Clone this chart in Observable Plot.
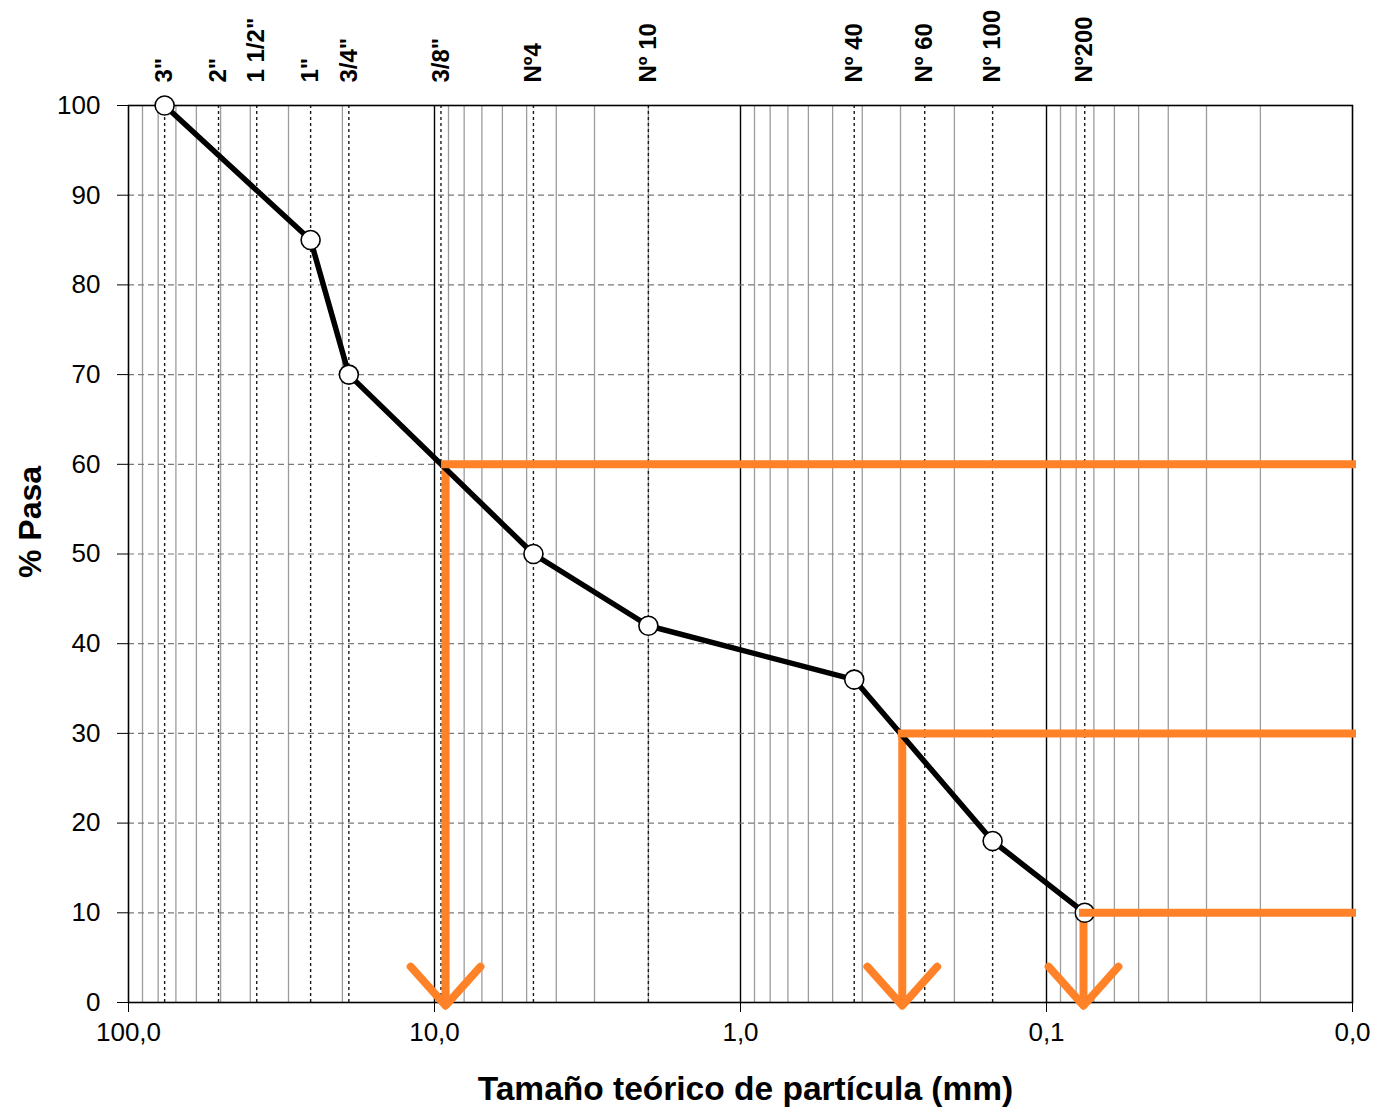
<!DOCTYPE html>
<html>
<head>
<meta charset="utf-8">
<script src="https://cdn.jsdelivr.net/npm/d3@7"></script>
<script src="https://cdn.jsdelivr.net/npm/@observablehq/plot@0.6"></script>
<style>
  html, body { margin: 0; padding: 0; background: #fff; }
  #chart svg { display: block; }
</style>
</head>
<body>
<div id="chart"></div>
<script>
// ---- Data ----
const sieveLabels = ['3"', '2"', '1 1/2"', '1"', '3/4"', '3/8"', 'Nº4', 'Nº 10', 'Nº 40', 'Nº 60', 'Nº 100', 'Nº200'];
const sieveMm = [76.2, 50.8, 38.1, 25.4, 19.05, 9.525, 4.75, 2.0, 0.425, 0.25, 0.15, 0.075];

const sampleMm = [76.2, 25.4, 19.05, 4.75, 2.0, 0.425, 0.15, 0.075];
const percentPassing = [100, 85, 70, 50, 42, 36, 18, 10];

const dNames = ["D60", "D30", "D10"];
const dPercent = [60, 30, 10];
const dMm = [9.2, 0.296, 0.0757];

const yTicks = [0, 10, 20, 30, 40, 50, 60, 70, 80, 90, 100];
const yGrid = [10, 20, 30, 40, 50, 60, 70, 80, 90];
const xTickValues = [100, 10, 1, 0.1, 0.01];
const xTickLabels = ["100,0", "10,0", "1,0", "0,1", "0,0"];
const decadeLines = [10, 1, 0.1];

const xTitle = "Tamaño teórico de partícula (mm)";
const yTitle = "% Pasa";

// ---- Derived tables ----
const sieves = sieveMm.map((mm, i) => ({mm, label: sieveLabels[i]}));
const samples = sampleMm.map((mm, i) => ({mm, pct: percentPassing[i]}));
const dRows = dMm.map((mm, i) => ({name: dNames[i], mm, pct: dPercent[i]}));
const minorTicks = d3.scaleLog().domain([0.01, 100]).ticks()
  .filter(v => Math.abs(Math.log10(v) - Math.round(Math.log10(v))) > 1e-9);

const tipY = -0.35, armY = 4, armSpread = 1.3;
const chevrons = dRows.flatMap(d => [
  {key: d.name, x: d.mm * armSpread, y: armY},
  {key: d.name, x: d.mm, y: tipY},
  {key: d.name, x: d.mm / armSpread, y: armY}
]);

const orange = "#ff8229";
const font = "'Liberation Sans', Arial, Helvetica, sans-serif";

const chart = Plot.plot({
  width: 1373,
  height: 1108,
  marginLeft: 128,
  marginRight: 21,
  marginTop: 105,
  marginBottom: 106,
  style: {fontFamily: font, background: "#fff", color: "#000", overflow: "visible"},
  x: {type: "log", domain: [100, 0.01]},
  y: {domain: [0, 100]},
  marks: [
    Plot.ruleX(minorTicks, {stroke: "#9c9c9c", strokeWidth: 1.3}),
    Plot.ruleX(decadeLines, {stroke: "#000", strokeWidth: 1.4}),
    Plot.ruleX(sieveMm, {stroke: "#1a1a1a", strokeWidth: 1.4, strokeDasharray: "3,3"}),
    Plot.ruleY(yGrid, {stroke: "#7a7a7a", strokeWidth: 1.2, strokeDasharray: "6,4"}),
    Plot.frame({stroke: "#000", strokeWidth: 1.6}),
    Plot.axisY({ticks: yTicks, tickSize: 11, tickPadding: 17, fontSize: 26, label: null, tickFormat: d => String(d)}),
    Plot.axisX({ticks: xTickValues, tickSize: 10, tickPadding: 10, fontSize: 26, label: null,
      tickFormat: d => xTickLabels[xTickValues.indexOf(d)]}),
    // D-lines: verticals and arrowheads
    Plot.ruleX(dRows, {x: "mm", y1: "pct", y2: tipY, stroke: orange, strokeWidth: 8}),
    Plot.line(chevrons, {x: "x", y: "y", z: "key", stroke: orange, strokeWidth: 8,
      strokeLinecap: "round", strokeLinejoin: "round"}),
    // grading curve
    Plot.line(samples, {x: "mm", y: "pct", stroke: "#000", strokeWidth: 5.5, strokeLinejoin: "round"}),
    Plot.dot(samples, {x: "mm", y: "pct", r: 9.5, fill: "#fff", stroke: "#000", strokeWidth: 1.6}),
    // D-lines: horizontals
    Plot.ruleY(dRows, {y: "pct", x1: "mm", x2: 0.01, stroke: orange, strokeWidth: 8, strokeLinecap: "square"}),
    // sieve labels on top
    Plot.text(sieves, {x: "mm", y: 100, text: "label", rotate: -90, textAnchor: "start", dy: -23,
      fontSize: 24, fontWeight: "bold", fill: "#000"}),
    // axis titles
    Plot.text([yTitle], {frameAnchor: "left", dx: -98, dy: -32, rotate: -90, text: d => d,
      textAnchor: "middle", lineAnchor: "middle", fontSize: 32, fontWeight: "bold", fill: "#000"}),
    Plot.text([xTitle], {frameAnchor: "bottom", dx: 5, dy: 87, text: d => d,
      textAnchor: "middle", lineAnchor: "middle", fontSize: 33.5, fontWeight: "bold", fill: "#000"})
  ]
});

document.getElementById("chart").appendChild(chart);
</script>
</body>
</html>
